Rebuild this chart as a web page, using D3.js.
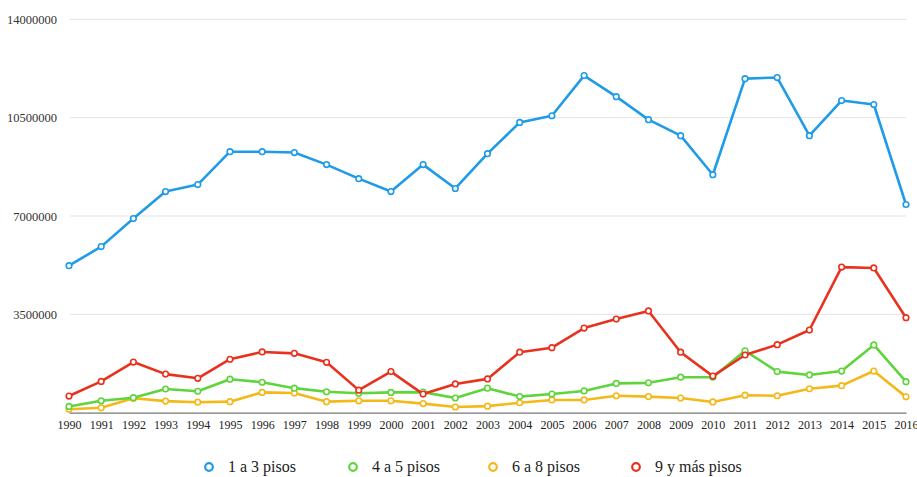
<!DOCTYPE html>
<html>
<head>
    <meta charset="utf-8">
    <style>
        body { margin: 0; background: #fff; font-family: 'Liberation Serif', serif; }
        .grid line { stroke: #e3e3e3; stroke-width: 1; }
        path.line { fill: none; stroke-width: 2.6px; stroke-linejoin: round; }
        circle.dot { fill: #fff; stroke-width: 1.6px; }
    </style>
</head>
<body>
    <script src="https://cdn.jsdelivr.net/npm/d3@7"></script>
    <script>
        var years = d3.range(1990, 2017);
        var seriesNames = ["1 a 3 pisos", "4 a 5 pisos", "6 a 8 pisos", "9 y más pisos"];
        var seriesColors = ["#1f9be8", "#5fd43c", "#f6b819", "#e8321e"];
        var yTicks = [0, 3500000, 7000000, 10500000, 14000000];

        var pisos1a3 = [5230000, 5910000, 6910000, 7870000, 8120000, 9290000, 9290000, 9260000, 8830000, 8330000,
            7870000, 8830000, 7980000, 9220000, 10330000, 10570000, 12000000, 11250000, 10430000, 9860000,
            8470000, 11890000, 11930000, 9860000, 11110000, 10970000, 7410000];
        var pisos4a5 = [220000, 420000, 530000, 840000, 760000, 1190000, 1080000, 870000, 740000, 690000,
            720000, 730000, 520000, 870000, 570000, 660000, 770000, 1040000, 1060000, 1260000,
            1260000, 2200000, 1460000, 1340000, 1480000, 2410000, 1100000];
        var pisos6a8 = [120000, 170000, 510000, 410000, 370000, 390000, 720000, 700000, 390000, 420000,
            420000, 320000, 200000, 230000, 350000, 450000, 450000, 600000, 570000, 520000,
            380000, 620000, 600000, 850000, 960000, 1480000, 560000];
        var pisos9mas = [590000, 1110000, 1800000, 1370000, 1220000, 1900000, 2160000, 2110000, 1790000, 800000,
            1460000, 660000, 1020000, 1200000, 2150000, 2310000, 3010000, 3330000, 3620000, 2150000,
            1300000, 2050000, 2420000, 2940000, 5180000, 5150000, 3380000];

        var seriesValues = [pisos1a3, pisos4a5, pisos6a8, pisos9mas];

        var serif = "'Liberation Serif'";
        var width = 917, height = 477;
        var margin = { left: 69, right: 11, top: 19.4, bottom: 65 };

        var svg = d3.select("body").append("svg")
            .attr("width", width)
            .attr("height", height)
            .attr("font-family", "Liberation Serif")
            .style("font-family", serif);

        var x = d3.scalePoint()
            .domain(years)
            .range([margin.left, width - margin.right]);

        var y = d3.scaleLinear()
            .domain([0, 14000000])
            .range([height - margin.bottom + 0.6, margin.top]);

        // grid lines
        svg.append("g")
            .attr("class", "grid")
            .selectAll("line")
            .data(yTicks.slice(1))
            .enter().append("line")
            .attr("x1", margin.left + 1)
            .attr("x2", width - margin.right)
            .attr("y1", function(d) { return y(d); })
            .attr("y2", function(d) { return y(d); });

        // y labels
        var yAxis = svg.append("g")
            .attr("transform", "translate(57,0)")
            .call(d3.axisLeft(y).tickValues(yTicks.slice(1)).tickSize(0).tickPadding(0).tickFormat(d3.format("d")));
        yAxis.attr("font-family", "Liberation Serif").attr("font-size", 12.5);
        yAxis.select(".domain").remove();
        yAxis.selectAll("text")
            .style("font-family", serif)
            .style("font-size", "12.5px")
            .attr("fill", "#333");

        // x axis
        var xAxis = svg.append("g")
            .attr("transform", "translate(0," + y(0) + ")")
            .call(d3.axisBottom(x).tickSize(0).tickPadding(8));
        xAxis.attr("font-family", "Liberation Serif").attr("font-size", 12);
        xAxis.select(".domain")
            .attr("stroke", "#777")
            .attr("stroke-width", 1.2);
        xAxis.selectAll("text")
            .style("font-family", serif)
            .style("font-size", "12px")
            .attr("fill", "#222");

        var line = d3.line()
            .x(function(d, i) { return x(years[i]); })
            .y(function(d) { return y(d); });

        var drawOrder = [2, 1, 3, 0];
        drawOrder.forEach(function(s) {
            var g = svg.append("g");
            g.append("path")
                .datum(seriesValues[s])
                .attr("class", "line")
                .attr("stroke", seriesColors[s])
                .attr("d", line);
            g.selectAll("circle")
                .data(seriesValues[s])
                .enter().append("circle")
                .attr("class", "dot")
                .attr("stroke", seriesColors[s])
                .attr("r", 2.8)
                .attr("cx", function(d, i) { return x(years[i]); })
                .attr("cy", function(d) { return y(d); });
        });

        // legend
        var legendX = [209, 353, 493, 636];
        var legend = svg.append("g");
        seriesNames.forEach(function(name, i) {
            legend.append("circle")
                .attr("cx", legendX[i])
                .attr("cy", 467)
                .attr("r", 3.8)
                .attr("fill", "#fff")
                .attr("stroke", seriesColors[i])
                .attr("stroke-width", 2.2);
            legend.append("text")
                .attr("x", legendX[i] + 19)
                .attr("y", 472)
                .style("font-family", serif)
                .style("font-size", "16px")
                .attr("fill", "#222")
                .text(name);
        });
    </script>
</body>
</html>
